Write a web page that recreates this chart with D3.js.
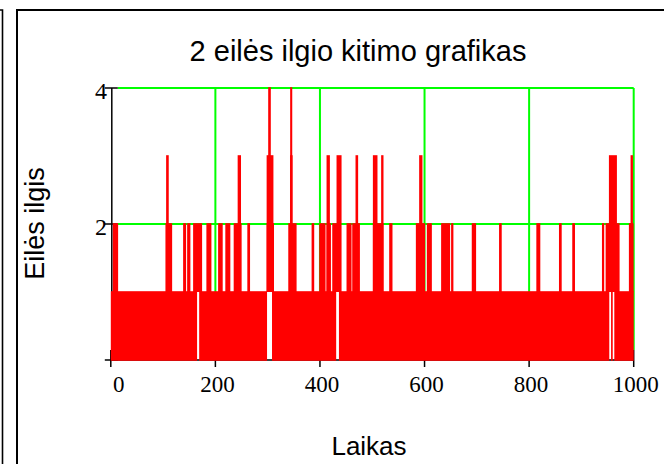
<!DOCTYPE html>
<html>
<head>
<meta charset="utf-8">
<script src="https://cdn.jsdelivr.net/npm/d3@7"></script>
<style>
  body { margin: 0; background: #fff; }
</style>
</head>
<body>
<div id="chart"></div>
<script>
const titleText = "2 eilės ilgio kitimo grafikas";
const xLabel = "Laikas";
const yLabel = "Eilės ilgis";
const xTicks = [0, 200, 400, 600, 800, 1000];
const yTicks = [0, 2, 4];
const yTickLabels = ["", "2", "4"];

// time spans where the queue keeps switching between 0 and 1
const band01 = [[0, 165], [169, 298.8], [308.3, 431], [436.3, 953.3], [956.7, 959.9], [962.9, 1000]];

// bursts above 1, [start, end] per top level reached
const bursts2 = [[3.8, 14], [104.5, 117.3], [138.3, 144], [146, 152.2], [157.4, 174.6], [182.8, 192.4],
  [205.2, 214], [219, 228.6], [235, 250.2], [261.1, 266.3], [298, 312.1], [339.4, 355.3], [384, 389],
  [398.7, 410.7], [412.6, 421], [423.5, 440], [450.8, 460.4], [461.7, 476.4], [501.2, 521.5],
  [532.4, 538.7], [583.4, 601.1], [604.4, 614], [631.7, 648.9], [650.8, 655.2], [690.3, 698.6],
  [742.5, 747.6], [813.8, 821.4], [857.1, 862.3], [882.5, 887.7], [939.3, 943.6], [946.3, 973],
  [990.8, 999.8]];
const bursts3 = [[105.8, 110.8], [242.6, 249], [298, 311], [342.7, 347.7], [412.6, 419], [431.7, 441.3],
  [468, 473], [501.2, 510], [517, 521.5], [589.7, 596], [952.6, 967.9], [994, 998.5]];
const bursts4 = [[301, 306], [343, 347]];

const width = 664, height = 464;
const red = "#ff0000", green = "#00ff00";

const svg = d3.select("#chart").append("svg")
    .attr("width", width)
    .attr("height", height)
    .style("display", "block");

const x = d3.scaleLinear().domain([0, 1000]).range([110.8, 633.7]);
const y = d3.scaleLinear().domain([0, 4]).range([360, 88]);

// panel frames
svg.append("path")
    .attr("d", "M0,10 H2.5 V464")
    .attr("fill", "none").attr("stroke", "#000").attr("stroke-width", 1.6);
svg.append("path")
    .attr("d", "M17,464 V10 H664")
    .attr("fill", "none").attr("stroke", "#000").attr("stroke-width", 2);

// grid
const grid = svg.append("g").attr("stroke", green).attr("stroke-width", 2);
grid.selectAll("line.gx")
    .data(xTicks.filter(d => d > 0))
    .enter().append("line")
    .attr("x1", d => x(d)).attr("x2", d => x(d))
    .attr("y1", y(4)).attr("y2", y(0) - 10);
grid.selectAll("line.gy")
    .data(yTicks.filter(d => d > 0))
    .enter().append("line")
    .attr("x1", x(0) + 7).attr("x2", x(1000))
    .attr("y1", d => y(d)).attr("y2", d => y(d));

// axes
const ax = svg.append("g").attr("stroke", "#000").attr("stroke-width", 1.5);
ax.append("line")
    .attr("x1", x(0) + 1).attr("x2", x(0) + 1)
    .attr("y1", y(4)).attr("y2", y(0));
ax.append("line")
    .attr("x1", x(0)).attr("x2", x(1000))
    .attr("y1", y(0)).attr("y2", y(0));
ax.selectAll("line.ty")
    .data(yTicks)
    .enter().append("line")
    .attr("x1", x(0) - 6).attr("x2", x(0) + 7)
    .attr("y1", d => y(d)).attr("y2", d => y(d));
ax.selectAll("line.tx")
    .data(xTicks)
    .enter().append("line")
    .attr("x1", d => x(d)).attr("x2", d => x(d))
    .attr("y1", y(0) - 10).attr("y2", y(0) + 7);

// queue length trace
const trace = svg.append("g").attr("fill", red);
trace.selectAll("rect.band")
    .data(band01)
    .enter().append("rect")
    .attr("x", d => x(d[0]))
    .attr("width", d => x(d[1]) - x(d[0]))
    .attr("y", y(1) - 0.8)
    .attr("height", y(0) - y(1) + 1.6);

[[bursts2, 2], [bursts3, 3], [bursts4, 4]].forEach(([spans, level]) => {
    trace.selectAll("rect.l" + level)
        .data(spans)
        .enter().append("rect")
        .attr("x", d => x(d[0]))
        .attr("width", d => Math.max(1.6, x(d[1]) - x(d[0])))
        .attr("y", y(level) - 0.8)
        .attr("height", y(1) - y(level) + 0.8);
});

// tick labels
svg.append("g")
    .attr("font-family", "'Liberation Serif', 'Times New Roman', serif")
    .attr("font-size", 23)
    .attr("fill", "#000")
    .attr("text-anchor", "middle")
    .selectAll("text")
    .data(xTicks)
    .enter().append("text")
    .attr("x", d => x(d) + (d === 0 ? 8 : 2))
    .attr("y", 392)
    .text(d => d);

svg.append("g")
    .attr("font-family", "'Liberation Serif', 'Times New Roman', serif")
    .attr("font-size", 24)
    .attr("fill", "#000")
    .attr("text-anchor", "end")
    .selectAll("text")
    .data(yTicks)
    .enter().append("text")
    .attr("x", 107)
    .attr("y", d => y(d) + 11)
    .text((d, i) => yTickLabels[i]);

// titles
svg.append("text")
    .attr("x", 358)
    .attr("y", 61)
    .attr("text-anchor", "middle")
    .attr("font-family", "'Liberation Sans', Arial, sans-serif")
    .attr("font-size", 29)
    .text(titleText);

svg.append("text")
    .attr("x", 369)
    .attr("y", 455)
    .attr("text-anchor", "middle")
    .attr("font-family", "'Liberation Sans', Arial, sans-serif")
    .attr("font-size", 26)
    .text(xLabel);

svg.append("text")
    .attr("transform", "translate(44,223.5) rotate(-90)")
    .attr("text-anchor", "middle")
    .attr("font-family", "'Liberation Sans', Arial, sans-serif")
    .attr("font-size", 27)
    .text(yLabel);
</script>
</body>
</html>
